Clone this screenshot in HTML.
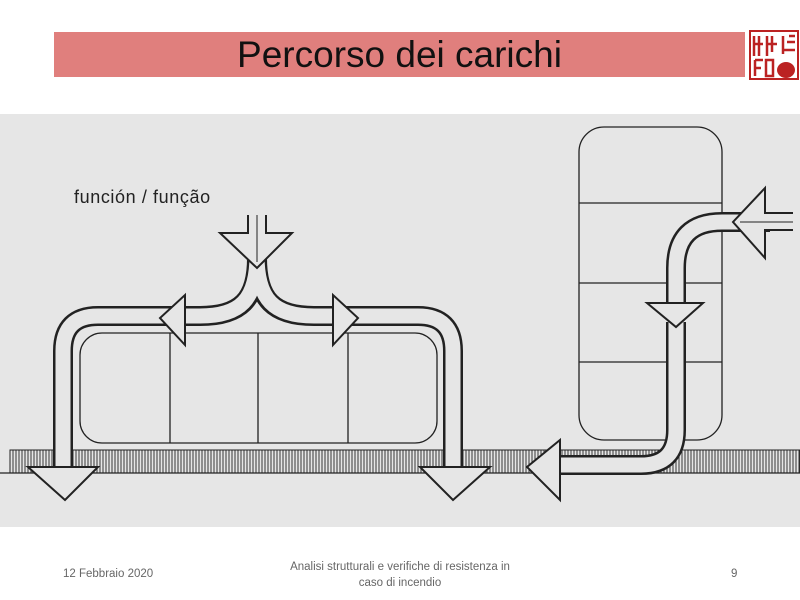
<!DOCTYPE html>
<html><head><meta charset="utf-8"><style>
body{margin:0;width:800px;height:600px;background:#fff;overflow:hidden;position:relative;font-family:"Liberation Sans",sans-serif}
.t{position:absolute;left:54px;top:32px;width:691px;height:45px;background:#e07f7d;text-align:center;font-size:37px;line-height:45px;color:#111;font-family:"Liberation Sans",sans-serif}
.f{position:absolute;font-size:11.5px;color:#666;font-family:"Liberation Sans",sans-serif}
</style></head><body>
<div class="t">Percorso dei carichi</div>
<svg style="position:absolute;left:749px;top:30px" width="50" height="50" viewBox="0 0 50 50">
<rect x="1" y="1" width="48" height="48" fill="#fff" stroke="#b22" stroke-width="2"/>
<g stroke="#b22" stroke-width="2.5" fill="none"><path d="M5,6V26M10,6V26M5,14H14M18,6V26M23,6V22M18,14H28M34,6V24M40,6H46M38,12H46M34,20H46M6,30V46M6,30H14M6,38H12M17,30H24V46H17Z"/></g>
<ellipse cx="37" cy="40" rx="9" ry="8" fill="#b22"/>
</svg>
<svg style="position:absolute;left:0;top:114px" width="800" height="413" viewBox="0 114 800 413">
<defs><pattern id="h" width="3" height="10" patternUnits="userSpaceOnUse"><rect width="3" height="10" fill="#e6e6e6"/><line x1="1" y1="0" x2="1" y2="10" stroke="#222" stroke-width="0.9"/></pattern></defs>
<rect x="0" y="114" width="800" height="413" fill="#e6e6e6"/>
<rect x="10" y="450" width="790" height="23" fill="url(#h)" stroke="#222" stroke-width="1"/>
<line x1="0" y1="473" x2="800" y2="473" stroke="#222" stroke-width="1.2"/>
<text x="74" y="203" font-family="Liberation Sans,sans-serif" font-size="18" letter-spacing="0.6" fill="#222">función / função</text>
<g fill="none" stroke="#222" stroke-width="1.3">
<rect x="80" y="333" width="357" height="110" rx="22"/>
<path d="M170,333V443M258,333V443M348,333V443"/>
<rect x="579" y="127" width="143" height="313" rx="25"/>
<path d="M579,203H722M579,283H722M579,362H722"/>
</g>
<g fill="none" stroke-linejoin="round">
<g stroke="#222" stroke-width="20">
<path d="M63,466V351Q63,316 98,316H175"/>
<path d="M453,466V351Q453,316 418,316H345"/>
<path d="M257,258C257,300 240,316 200,316H180M257,258C257,300 274,316 314,316H338"/>
<path d="M770,222H722Q676,222 676,268V303"/>
<path d="M676,322V430Q676,465 641,465H555"/>
</g>
<g stroke="#e6e6e6" stroke-width="15">
<path d="M63,468V351Q63,316 98,316H175"/>
<path d="M453,468V351Q453,316 418,316H345"/>
<path d="M257,255C257,300 240,316 200,316H180M257,255C257,300 274,316 314,316H338"/>
<path d="M772,222H722Q676,222 676,268V305"/>
<path d="M676,320V430Q676,465 641,465H553"/>
</g>
</g>
<g fill="#e6e6e6" stroke="#222" stroke-width="2" stroke-linejoin="miter">
<path d="M248,215V233H220L257,268L292,233H266V215"/>
<polygon points="28,467 98,467 65,500"/>
<polygon points="420,467 490,467 453,500"/>
<polygon points="185,295 185,345 160,318"/>
<polygon points="333,295 333,345 358,318"/>
<path d="M793,213H765V188L733,222L765,258V230H793"/>
<polygon points="647,303 703,303 676,327"/>
<polygon points="560,440 560,500 527,467"/>
</g>
<g stroke="#222" stroke-width="1"><line x1="257" y1="215" x2="257" y2="262"/><line x1="740" y1="222" x2="793" y2="222"/></g>
</svg>
<div class="f" style="left:63px;top:568px">12 Febbraio 2020</div>
<div class="f" style="left:250px;top:559px;width:300px;text-align:center;line-height:16px">Analisi strutturali e verifiche di resistenza in<br>caso di incendio</div>
<div class="f" style="left:731px;top:568px">9</div>
</body></html>
